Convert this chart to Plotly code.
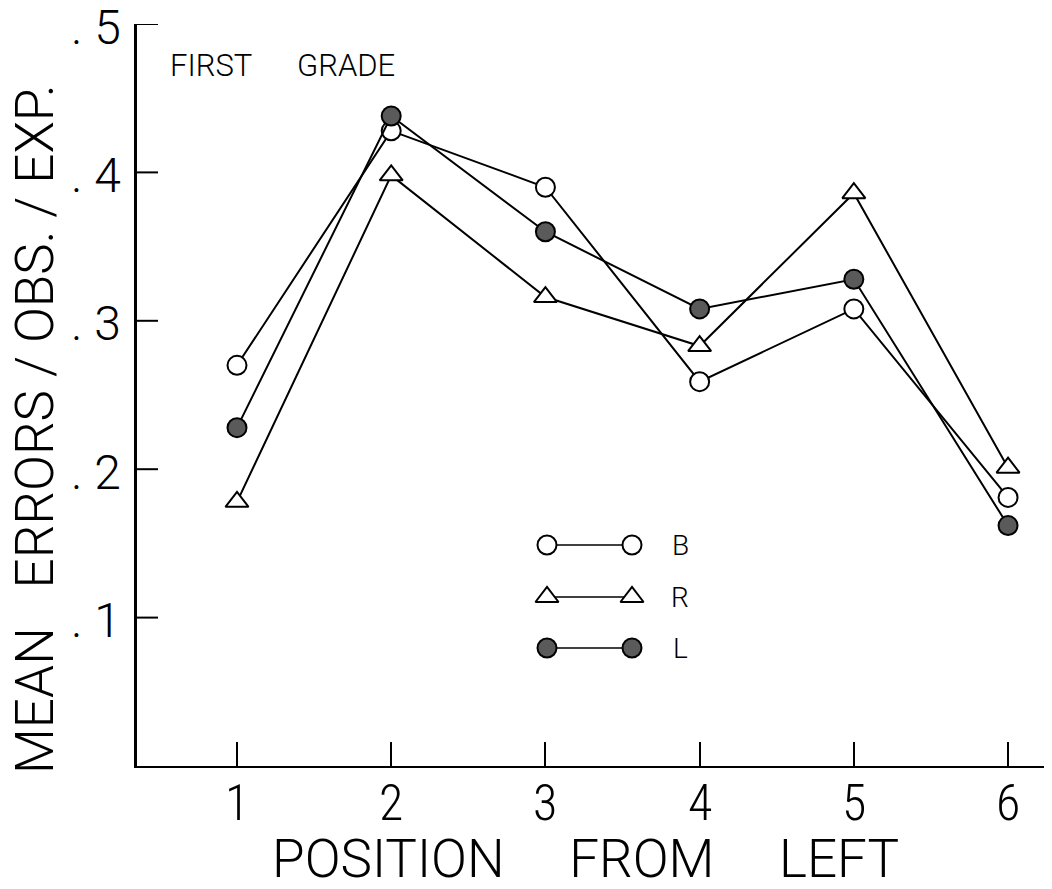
import plotly.graph_objects as go

# ---- data ----
positions = [1, 2, 3, 4, 5, 6]
B_vals = [0.270, 0.428, 0.390, 0.259, 0.308, 0.181]
R_vals = [0.178, 0.398, 0.316, 0.283, 0.386, 0.201]
L_vals = [0.228, 0.438, 0.360, 0.308, 0.328, 0.162]
y_tickvals = [0.1, 0.2, 0.3, 0.4, 0.5]
y_ticktext = [". 1", ". 2", ". 3", ". 4", ". 5"]
x_ticktext = ["1", "2", "3", "4", "5", "6"]
series_names = ["B", "R", "L"]

CFONT = "Roboto Condensed, Liberation Sans Narrow, DejaVu Sans Condensed, Roboto, sans-serif"
FONT = "Roboto, Liberation Sans, DejaVu Sans, sans-serif"
W, H = 1044, 881
ML, MR, MT, MB = 129, 0, 16, 123
OFF = 8  # page body offset
YMAX = 0.5


def px_x(sx):
    return (sx - OFF - ML) / (W - ML - MR)


def px_y(sy):
    return (H - MB - (sy - OFF)) / (H - MB - MT)


styles = {
    "B": dict(symbol="circle", color="white"),
    "R": dict(symbol="triangle-up", color="white"),
    "L": dict(symbol="circle", color="#5a5a5a"),
}
values = {"B": B_vals, "R": R_vals, "L": L_vals}

fig = go.Figure()
for name in series_names:
    st = styles[name]
    fig.add_trace(go.Scatter(
        x=positions, y=values[name], mode="lines+markers", name=name,
        line=dict(color="black", width=2),
        marker=dict(symbol=st["symbol"], size=19 if name != "R" else 20,
                    color=st["color"], line=dict(color="black", width=2)),
        showlegend=False,
    ))

# legend keys (drawn on a hidden overlay axis in plot-fraction units)
key_x = [px_x(547), px_x(632)]
key_y = {"B": px_y(545), "R": px_y(597), "L": px_y(648)}
for name in series_names:
    st = styles[name]
    fig.add_trace(go.Scatter(
        x=key_x, y=[key_y[name]] * 2, mode="lines+markers",
        xaxis="x2", yaxis="y2",
        line=dict(color="black", width=1.5),
        marker=dict(symbol=st["symbol"], size=19 if name != "R" else 20,
                    color=st["color"], line=dict(color="black", width=2)),
        showlegend=False, hoverinfo="skip",
    ))
    fig.add_annotation(xref="x2", yref="y2", x=px_x(680), y=key_y[name], text=name,
                       showarrow=False, font=dict(family=FONT, size=28, color="black", weight=300),
                       xanchor="center", yanchor="middle")

# x tick labels
for xv, lab in zip(positions, x_ticktext):
    fig.add_annotation(xref="x", yref="paper", x=xv, y=px_y(803), text=lab,
                       showarrow=False, xanchor="center", yanchor="middle",
                       font=dict(family=CFONT, size=50, color="black", weight=300))

# y ticks and labels (drawn explicitly so the top one at the axis end is kept)
for yv, lab in zip(y_tickvals, y_ticktext):
    fig.add_shape(type="line", xref="paper", yref="y", x0=0, x1=21 / (W - ML - MR),
                  y0=yv, y1=yv, line=dict(color="black", width=2))
    fig.add_annotation(xref="paper", yref="y", x=px_x(123), y=yv, yshift=-3, text=lab,
                       showarrow=False, xanchor="right", yanchor="middle",
                       font=dict(family=FONT, size=48, color="black", weight=300))

fig.add_annotation(xref="paper", yref="paper", x=px_x(168), y=px_y(66),
                   text="FIRST      GRADE", showarrow=False, xanchor="left", yanchor="middle",
                   font=dict(family=FONT, size=31, color="black", weight=300))

fig.add_annotation(xref="paper", yref="paper", x=px_x(35), y=px_y(429),
                   text="MEAN   ERRORS / OBS. / EXP.", showarrow=False, textangle=-90,
                   xanchor="center", yanchor="middle",
                   font=dict(family=FONT, size=53, color="black", weight=300))

fig.add_annotation(xref="paper", yref="paper", x=px_x(585), y=px_y(859),
                   text="POSITION     FROM     LEFT", showarrow=False,
                   xanchor="center", yanchor="middle",
                   font=dict(family=FONT, size=53, color="black", weight=300))

fig.update_layout(
    width=W, height=H,
    margin=dict(l=ML, r=MR, t=MT, b=MB, pad=0),
    paper_bgcolor="white", plot_bgcolor="white",
    font=dict(family=FONT, color="black", weight=300),
    xaxis=dict(range=[0.3515, 6.285], tickvals=positions, showticklabels=False,
               ticks="inside", ticklen=24, tickwidth=2, tickcolor="black",
               showline=True, linewidth=2, linecolor="black", showgrid=False,
               zeroline=False),
    yaxis=dict(range=[0, YMAX], showticklabels=False, ticks="",
               showline=True, linewidth=3, linecolor="black", showgrid=False,
               zeroline=False),
    xaxis2=dict(range=[0, 1], overlaying="x", visible=False, fixedrange=True),
    yaxis2=dict(range=[0, 1], overlaying="y", visible=False, fixedrange=True),
)

fig.write_html("out.html")
